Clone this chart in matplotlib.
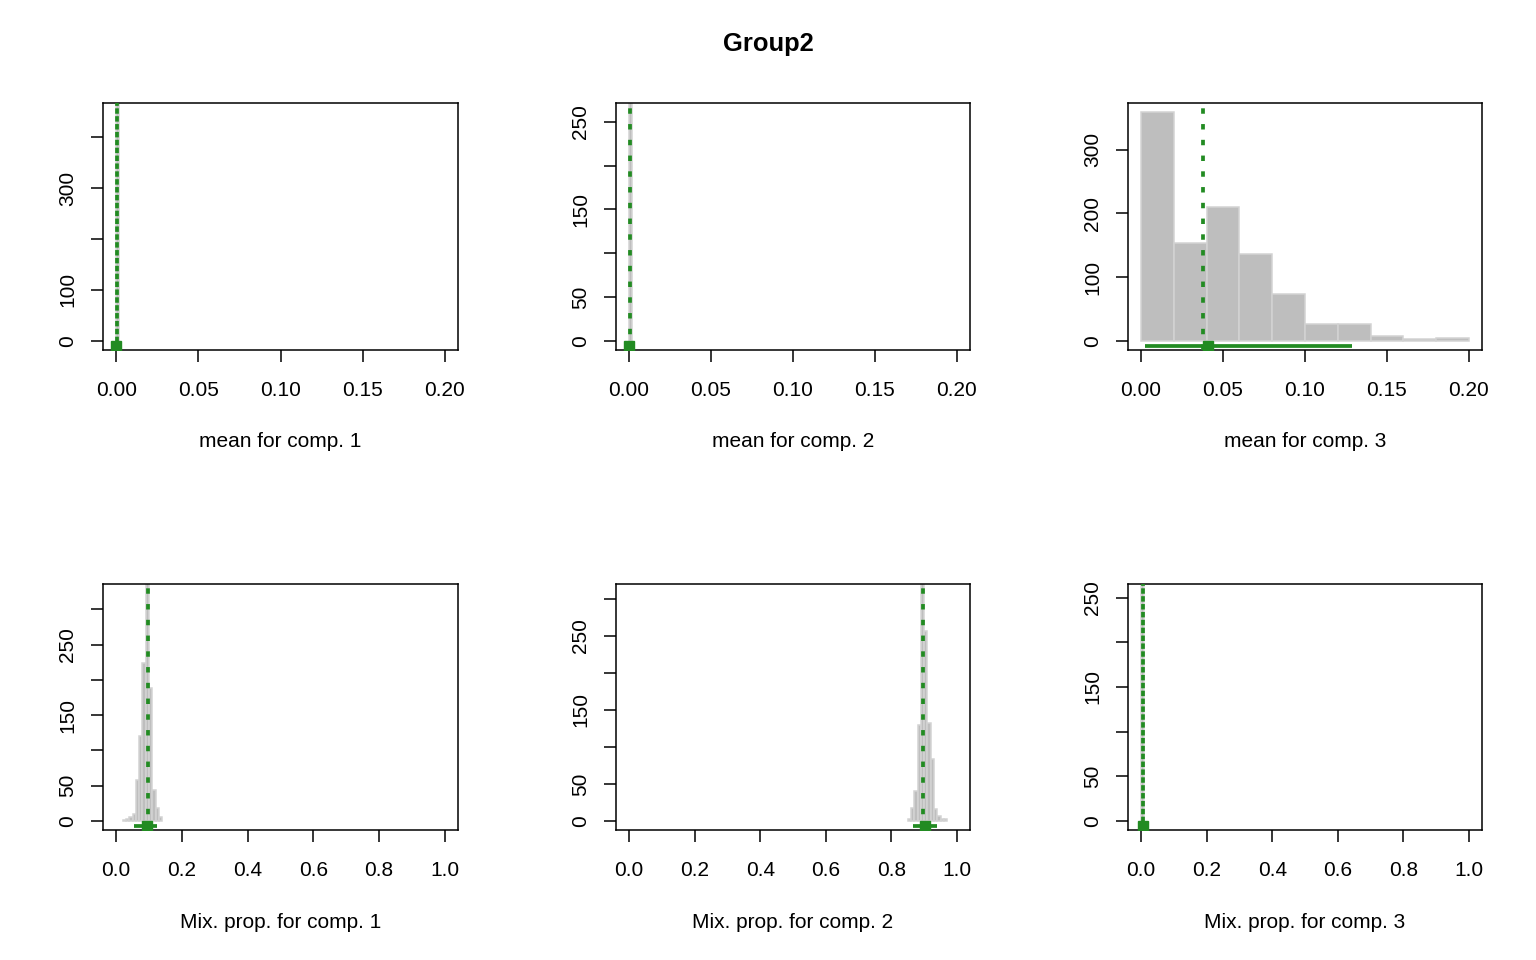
import numpy as np
import matplotlib
matplotlib.use("Agg")
import matplotlib.pyplot as plt

plt.rcParams['font.family'] = ['Liberation Sans', 'DejaVu Sans']

# ---------------- data ----------------
title = "Group2"
xlabels = ["mean for comp. 1", "mean for comp. 2", "mean for comp. 3",
           "Mix. prop. for comp. 1", "Mix. prop. for comp. 2", "Mix. prop. for comp. 3"]

# histogram bin edges and counts
edges1 = [0.0, 0.002]
counts1 = [1000]
edges2 = [0.0, 0.002]
counts2 = [1000]
edges3 = [0.00, 0.02, 0.04, 0.06, 0.08, 0.10, 0.12, 0.14, 0.16, 0.18, 0.20]
counts3 = [359, 153, 210, 137, 74, 27, 26, 7, 3, 4]
edges4 = [0.02, 0.03, 0.04, 0.05, 0.06, 0.07, 0.08, 0.09, 0.10, 0.11, 0.12, 0.13, 0.14]
counts4 = [1, 2, 6, 10, 58, 120, 224, 340, 189, 44, 18, 5]
edges5 = [0.85, 0.86, 0.87, 0.88, 0.89, 0.90, 0.91, 0.92, 0.93, 0.94, 0.95, 0.96, 0.97]
counts5 = [2, 18, 41, 129, 330, 257, 133, 84, 16, 6, 3, 3]
edges6 = [0.0, 0.01]
counts6 = [1000]

# y-axis scale maxima (from the axes)
ymax = [449, 261, 359, 323, 308, 255]

# posterior summaries: dotted line value, point estimate, interval
vline = [0.0004, 0.0003, 0.0378, 0.0966, 0.8955, 0.007]
point = [0.0, 0.0, 0.041, 0.093, 0.903, 0.007]
ci_low = [0.0, 0.0, 0.0024, 0.055, 0.867, 0.007]
ci_high = [0.0, 0.0, 0.1285, 0.124, 0.940, 0.007]
double_dots = [True, False, False, False, False, True]

# axis ticks and labels
xticks_top = [0.00, 0.05, 0.10, 0.15, 0.20]
xticklabels_top = ["0.00", "0.05", "0.10", "0.15", "0.20"]
xticks_bot = [0.0, 0.2, 0.4, 0.6, 0.8, 1.0]
xticklabels_bot = ["0.0", "0.2", "0.4", "0.6", "0.8", "1.0"]

yticks = [
    [0, 100, 200, 300, 400],
    [0, 50, 100, 150, 200, 250],
    [0, 100, 200, 300],
    [0, 50, 100, 150, 200, 250, 300],
    [0, 50, 100, 150, 200, 250, 300],
    [0, 50, 100, 150, 200, 250],
]
yticklabels = [
    ["0", "100", "", "300", ""],
    ["0", "50", "", "150", "", "250"],
    ["0", "100", "200", "300"],
    ["0", "50", "", "150", "", "250", ""],
    ["0", "50", "", "150", "", "250", ""],
    ["0", "50", "", "150", "", "250"],
]

# ---------------- layout ----------------
W, H = 1536, 960
fig = plt.figure(figsize=(W / 100, H / 100), dpi=100)
fig.patch.set_facecolor("white")

col_left = [103, 616, 1128]
col_w = [355, 354, 354]
row_top = [103, 584]
row_h = [247, 246]

green = "#228B22"
bar_fill = "#BEBEBE"
bar_edge = "#D3D3D3"
FS = 15

all_edges = [edges1, edges2, edges3, edges4, edges5, edges6]
all_counts = [counts1, counts2, counts3, counts4, counts5, counts6]

LW_DOT = 2.7
ON, OFF = 1.45, 2.75
PERIOD = ON + OFF

for i in range(6):
    r, c = divmod(i, 3)
    l, t, w, h = col_left[c], row_top[r], col_w[c], row_h[r]
    ax = fig.add_axes([l / W, 1 - (t + h) / H, w / W, h / H])

    e = np.array(all_edges[i])
    ax.bar(e[:-1], all_counts[i], width=np.diff(e), align="edge",
           color=bar_fill, edgecolor=bar_edge, linewidth=1.1, zorder=1)

    if r == 0:
        lo, hi = 0.0, 0.2
        xt, xtl = xticks_top, xticklabels_top
    else:
        lo, hi = 0.0, 1.0
        xt, xtl = xticks_bot, xticklabels_bot
    pad_x = 0.04 * (hi - lo)
    ax.set_xlim(lo - pad_x, hi + pad_x)
    M = ymax[i]
    ax.set_ylim(-0.04 * M, 1.04 * M)

    # dotted line(s)
    ax.axvline(vline[i], color=green, lw=LW_DOT, linestyle=(0, (ON, OFF)), zorder=3)
    if double_dots[i]:
        ax.axvline(vline[i], color=green, lw=LW_DOT,
                   linestyle=(PERIOD / 2, (ON, OFF)), zorder=3)

    yy = -0.022 * M
    if ci_high[i] > ci_low[i]:
        ax.plot([ci_low[i], ci_high[i]], [yy, yy], color=green, lw=2.7,
                solid_capstyle="butt", zorder=4)
    ax.plot([point[i]], [yy], marker="s", ms=6.8, color=green, mec=green,
            linestyle="none", zorder=5)

    ax.set_xticks(xt)
    ax.set_xticklabels(xtl, fontsize=FS)
    ax.set_yticks(yticks[i])
    ax.set_yticklabels(yticklabels[i], fontsize=FS, rotation=90, va="center")

    ax.tick_params(axis="both", direction="out", length=8.6, width=1.1, colors="black")
    ax.tick_params(axis="x", pad=13.5)
    ax.tick_params(axis="y", pad=10)
    for s in ax.spines.values():
        s.set_linewidth(1.1)
        s.set_color("black")

    ax.annotate(xlabels[i], xy=(0.5, 0), xycoords="axes fraction",
                xytext=(0, -92 * 0.72), textcoords="offset points",
                ha="center", va="center", fontsize=FS)

fig.text(0.5, 1 - 44 / H, title, ha="center", va="center",
         fontsize=18.4, fontweight="bold")

fig.savefig("out.png", dpi=100, facecolor="white")
